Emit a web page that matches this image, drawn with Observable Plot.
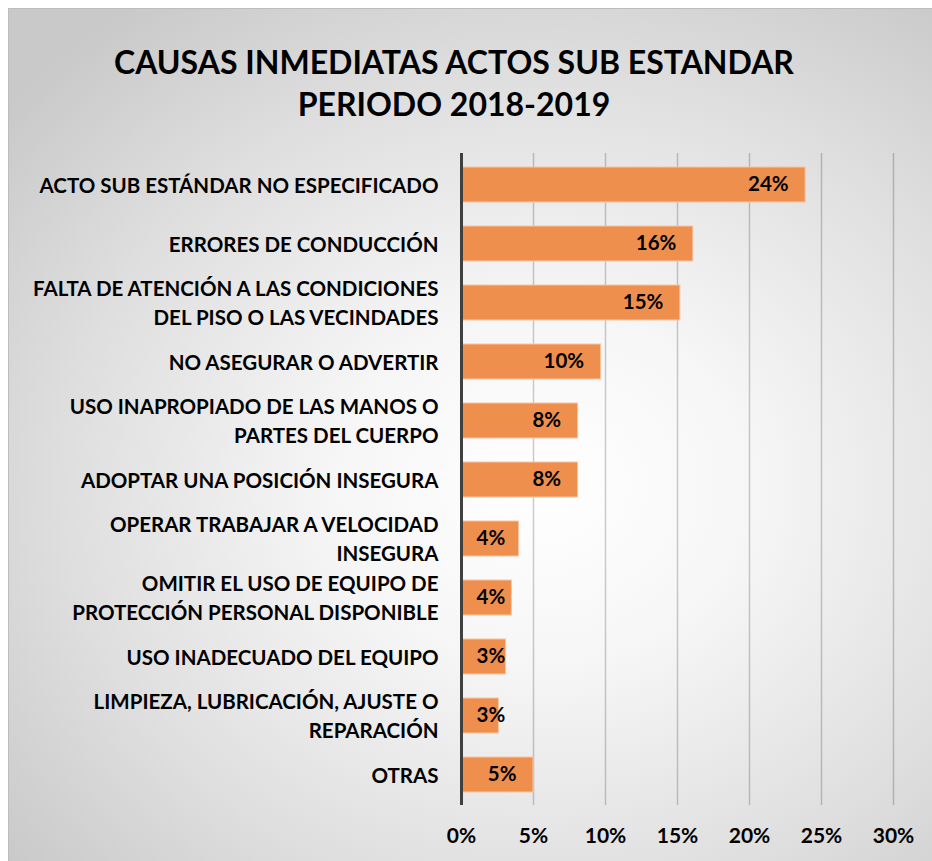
<!DOCTYPE html>
<html>
<head>
<meta charset="utf-8">
<script src="https://cdn.jsdelivr.net/npm/d3@7"></script>
<script src="https://cdn.jsdelivr.net/npm/@observablehq/plot@0.6"></script>
<style>
  html, body { margin: 0; padding: 0; background: #fff; }
  #page { position: relative; width: 932px; height: 861px; overflow: hidden; }
  #frame {
    position: absolute; left: 8px; top: 8px; width: 924px; height: 853px;
    border-top: 1px solid #bdbdbd; border-left: 1px solid #bdbdbd; box-sizing: border-box;
    background: radial-gradient(ellipse 75% 70% at 58% 56%, #ffffff 0%, #f6f6f6 30%, #dedede 70%, #c9c9c9 100%);
  }
  #title {
    position: absolute; left: 0; width: 908px; top: 41px;
    text-align: center; font-family: Lato, "Open Sans", sans-serif; font-weight: bold;
    font-size: 32px; line-height: 42px; color: #000;
  }
  #chart { position: absolute; left: 0; top: 0; }
</style>
</head>
<body>
<div id="page">
  <div id="frame"></div>
  <div id="title">CAUSAS INMEDIATAS ACTOS SUB ESTANDAR<br>PERIODO 2018-2019</div>
  <div id="chart"></div>
</div>
<script>
const categories = [
  "ACTO SUB ESTÁNDAR NO ESPECIFICADO",
  "ERRORES DE CONDUCCIÓN",
  "FALTA DE ATENCIÓN A LAS CONDICIONES\nDEL PISO O LAS VECINDADES",
  "NO ASEGURAR O ADVERTIR",
  "USO INAPROPIADO DE LAS MANOS O\nPARTES DEL CUERPO",
  "ADOPTAR UNA POSICIÓN INSEGURA",
  "OPERAR TRABAJAR A VELOCIDAD\nINSEGURA",
  "OMITIR EL USO DE EQUIPO DE\nPROTECCIÓN PERSONAL DISPONIBLE",
  "USO INADECUADO DEL EQUIPO",
  "LIMPIEZA, LUBRICACIÓN, AJUSTE O\nREPARACIÓN",
  "OTRAS"
];
const values = [23.9, 16.1, 15.2, 9.7, 8.1, 8.1, 4.0, 3.5, 3.1, 2.6, 5.0];
const valueLabels = ["24%", "16%", "15%", "10%", "8%", "8%", "4%", "4%", "3%", "3%", "5%"];
const xTicks = [0, 5, 10, 15, 20, 25, 30];
const xTickLabels = ["0%", "5%", "10%", "15%", "20%", "25%", "30%"];

const data = categories.map((c, i) => ({cat: c, value: values[i], label: valueLabels[i]}));
const fitInside = 4.5;
const font = "Lato, 'Open Sans', sans-serif";

const chart = Plot.plot({
  width: 932,
  height: 861,
  marginLeft: 461,
  marginRight: 39,
  marginTop: 153,
  marginBottom: 56,
  style: {background: "transparent", fontFamily: font, fontWeight: "bold", color: "#000"},
  x: {domain: [0, 30], ticks: xTicks, label: null},
  y: {domain: categories, paddingInner: 0.41, paddingOuter: 0.22, label: null, axis: null},
  marks: [
    Plot.gridX(xTicks.slice(1), {stroke: "#000", strokeOpacity: 0.2, strokeWidth: 1.5}),
    Plot.barX(data, {x: "value", y: "cat", fill: "#EF8F4E", stroke: "#F8C6A2", strokeWidth: 1}),
    Plot.ruleX([0], {stroke: "#404040", strokeWidth: 3}),
    Plot.axisX({ticks: xTicks, tickSize: 0, tickPadding: 23, fontSize: 21, fill: "#000",
      fontWeight: "bold", tickFormat: d => xTickLabels[xTicks.indexOf(d)], label: null}),
    Plot.text(data, {y: "cat", text: "cat", frameAnchor: "left", dx: -23, dy: -2, textAnchor: "end",
      lineHeight: 1.45, fontSize: 20.5, fontWeight: "bold", fill: "#000", ariaLabel: "ylabels"}),
    Plot.text(data.filter(d => d.value >= fitInside), {x: "value", y: "cat", text: "label",
      textAnchor: "end", dx: -17, dy: -1, fontSize: 20.5, fontWeight: "bold", fill: "#000"}),
    Plot.text(data.filter(d => d.value < fitInside), {x: 0, y: "cat", text: "label",
      textAnchor: "start", dx: 15, dy: -1, fontSize: 20.5, fontWeight: "bold", fill: "#000"})
  ]
});
document.getElementById("chart").appendChild(chart);

// center multi-line category labels within their right-aligned block
chart.querySelectorAll('g[aria-label="ylabels"] text').forEach(t => {
  const w = t.getBBox().width;
  t.setAttribute("text-anchor", "middle");
  const tr = t.getAttribute("transform") || "";
  t.setAttribute("transform", tr + ` translate(${-w / 2},0)`);
});
</script>
</body>
</html>
